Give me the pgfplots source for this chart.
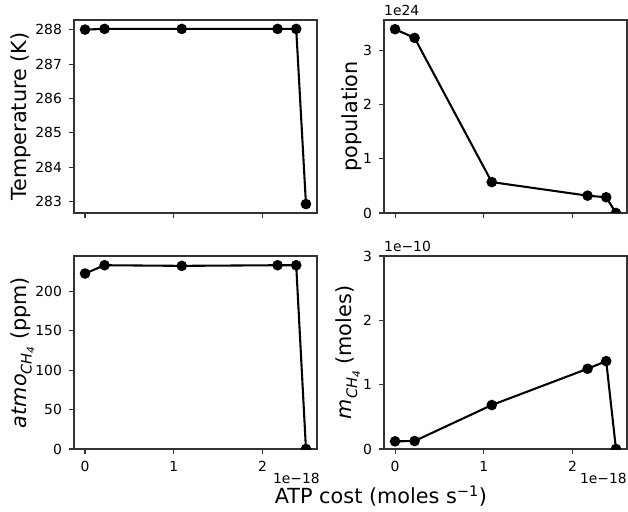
\documentclass[border=0pt]{standalone}
\usepackage{pgfplots}
\pgfplotsset{compat=1.18}
\usepackage{fontspec}
\setmainfont{DejaVu Sans}
\newcommand{\tickfont}{\fontsize{13.9}{16}\selectfont}
\newcommand{\labfont}{\fontsize{20.8}{24}\selectfont}
\newcommand{\subCH}{\raisebox{-0.25em}{\fontsize{14.6}{15}\selectfont\itshape CH\raisebox{-0.2em}{\fontsize{10.4}{11}\selectfont 4}}}
\pgfplotstableread{
x T pop atmo m
0 288.01 3.39 222.4 0.119
0.22 288.03 3.23 232.9 0.124
1.09 288.03 0.57 232.1 0.683
2.17 288.03 0.32 232.9 1.247
2.38 288.03 0.29 232.9 1.366
2.49 282.92 0 0 0
}\data
\pgfplotsset{
  myline/.style={black, solid, line width=2.08pt, mark=*, mark size=4.2pt, mark options={solid, fill=black}},
  mpl/.style={
    scale only axis, width=243pt, height=193pt,
    anchor=south west,
    xmin=-0.1245, xmax=2.6145,
    xtick={0,1,2},
    axis line style={line width=1.1pt, black!80},
    tick style={line width=1.1pt, black!80},
    tick align=outside, major tick length=4.9pt,
    xtick pos=bottom, ytick pos=left,
    ticklabel style={font=\tickfont, inner sep=0pt},
    xticklabel style={yshift=-7pt},
    yticklabel style={xshift=-7pt},
    /pgf/number format/assume math mode=true,
    clip mode=individual,
    clip marker paths=true,
    ylabel style={font=\labfont, rotate=0, anchor=center},
    enlargelimits=false,
  }
}
\begin{document}
\begin{tikzpicture}
% top-left
\begin{axis}[mpl, at={(74pt,298pt)},
  ymin=282.66, ymax=288.29, ytick={283,284,285,286,287,288},
  xticklabels={},
  ylabel={Temperature (K)},
  ylabel style={at={(axis description cs:-0.218,0.5)}},
]
\addplot[myline] table[x=x,y=T]{\data};
\end{axis}
% top-right
\begin{axis}[mpl, at={(384pt,298pt)},
  ymin=0, ymax=3.56, ytick={0,1,2,3},
  xticklabels={},
  ylabel={population},
  ylabel style={at={(axis description cs:-0.132,0.5)}},
]
\addplot[myline] table[x=x,y=pop]{\data};
\node[font=\tickfont, anchor=base west, inner sep=0pt] at ([yshift=4pt]rel axis cs:0,1) {1e24};
\end{axis}
% bottom-left
\begin{axis}[mpl, at={(74pt,62pt)},
  ymin=0, ymax=244.6, ytick={0,50,100,150,200},
  ylabel={\textit{atmo}\subCH\ (ppm)},
  ylabel style={at={(axis description cs:-0.212,0.5)}},
  xlabel={ATP cost (moles s\textsuperscript{−1})},
  xlabel style={font=\labfont, at={(axis description cs:1.263,-0.283)}, anchor=base},
]
\addplot[myline] table[x=x,y=atmo]{\data};
\node[font=\tickfont, anchor=base east, inner sep=0pt] at ([yshift=-34pt, xshift=3pt]rel axis cs:1,0) {1e−18};
\end{axis}
% bottom-right
\begin{axis}[mpl, at={(384pt,62pt)},
  ymin=0, ymax=3, ytick={0,1,2,3},
  ylabel={\textit{m}\subCH\ (moles)},
  ylabel style={at={(axis description cs:-0.148,0.5)}},
]
\addplot[myline] table[x=x,y=m]{\data};
\node[font=\tickfont, anchor=base east, inner sep=0pt] at ([yshift=-34pt, xshift=0pt]rel axis cs:1,0) {1e−18};
\node[font=\tickfont, anchor=base west, inner sep=0pt] at ([yshift=4pt]rel axis cs:0,1) {1e−10};
\end{axis}
\pgfresetboundingbox
\useasboundingbox (0pt,0pt) rectangle (628pt,511pt);
\end{tikzpicture}
\end{document}
